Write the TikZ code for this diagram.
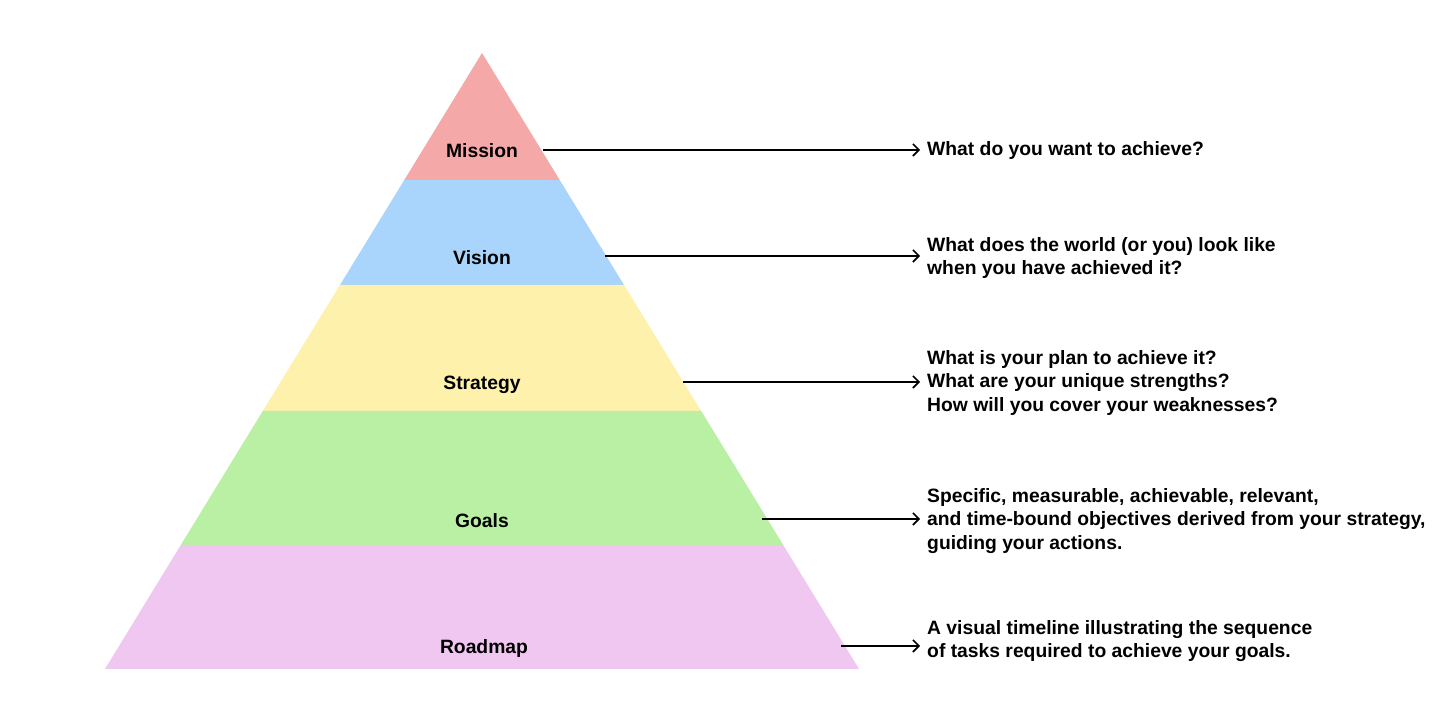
\documentclass[tikz,border=0pt]{standalone}
\usepackage{fontspec}
\setmainfont{Liberation Sans}
\usetikzlibrary{arrows.meta}
\definecolor{cmission}{HTML}{F4A9A8}
\definecolor{cvision}{HTML}{A9D4FB}
\definecolor{cstrategy}{HTML}{FDF1AB}
\definecolor{cgoals}{HTML}{B9F0A3}
\definecolor{croadmap}{HTML}{F0C7F0}
\begin{document}
\begin{tikzpicture}[x=1pt,y=1pt,
  lvl/.style={font=\fontsize{19.3}{22}\selectfont\bfseries, text=black, inner sep=0pt},
  desc/.style={font=\fontsize{19.3}{23.3}\selectfont\bfseries, text=black, anchor=west, align=left, inner sep=0pt},
  conn/.style={line width=2pt, -{Straight Barb[length=6pt,width=12pt,line width=1.6pt]}}]
\useasboundingbox (0,0) rectangle (1456,722);
\fill[white] (0,0) rectangle (1456,722);
% pyramid bands (y flipped: Y = 722 - y)
\fill[cmission] (482,669) -- (559.7,542) -- (404.3,542) -- cycle;
\fill[cvision] (404.3,542) -- (559.7,542) -- (624,437) -- (340,437) -- cycle;
\fill[cstrategy] (340,437) -- (624,437) -- (701.2,311) -- (262.8,311) -- cycle;
\fill[cgoals] (262.8,311) -- (701.2,311) -- (783.2,177) -- (180.8,177) -- cycle;
\fill[croadmap] (180.8,177) -- (783.2,177) -- (859,53) -- (105,53) -- cycle;
% level labels
\node[lvl] (mission) at (482,571) {Mission};
\node[lvl] (vision) at (482,464) {Vision};
\node[lvl] (strategy) at (482,337) {Strategy};
\node[lvl] (goals) at (482,201) {Goals};
\node[lvl] (roadmap) at (484,73) {Roadmap};
% descriptions
\node[desc] (dmission) at (927,571) {What do you want to achieve?};
\node[desc] (dvision) at (927,464) {What does the world (or you) look like\\when you have achieved it?};
\node[desc] (dstrategy) at (927,339) {What is your plan to achieve it?\\What are your unique strengths?\\How will you cover your weaknesses?};
\node[desc] (dgoals) at (927,201) {Specific, measurable, achievable, relevant,\\and time-bound objectives derived from your strategy,\\guiding your actions.};
\node[desc] (droadmap) at (927,81) {A visual timeline illustrating the sequence\\of tasks required to achieve your goals.};
% arrow start points on pyramid
\coordinate (smission) at (543,572);
\coordinate (svision) at (605,466);
\coordinate (sstrategy) at (683,340);
\coordinate (sgoals) at (762,203);
\coordinate (sroadmap) at (841,76);
\coordinate (emission) at (920,572);
\coordinate (evision) at (920,466);
\coordinate (estrategy) at (920,340);
\coordinate (egoals) at (920,203);
\coordinate (eroadmap) at (920,76);
\draw[conn] (smission) -- (emission);
\draw[conn] (svision) -- (evision);
\draw[conn] (sstrategy) -- (estrategy);
\draw[conn] (sgoals) -- (egoals);
\draw[conn] (sroadmap) -- (eroadmap);
\end{tikzpicture}
\end{document}
